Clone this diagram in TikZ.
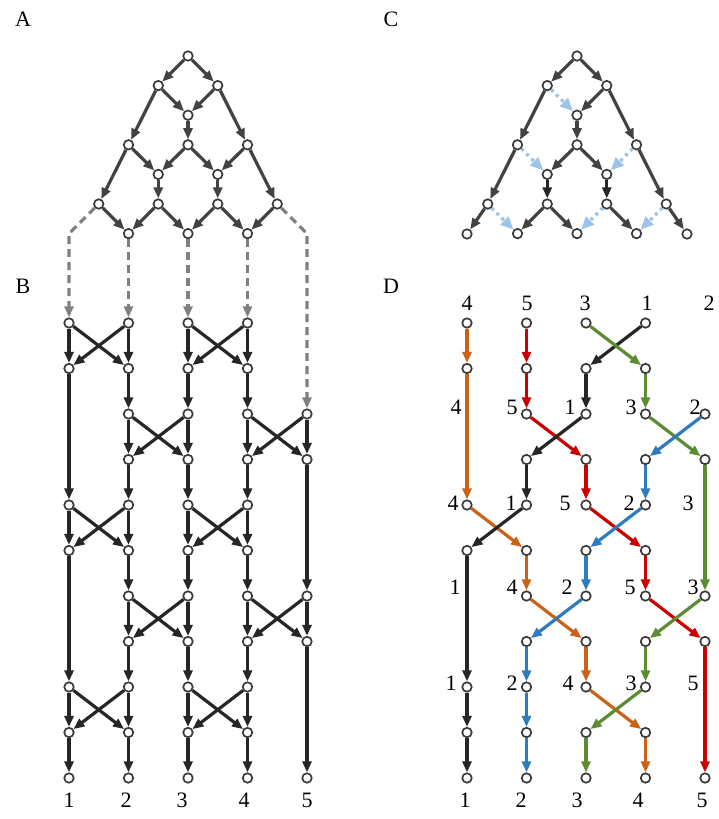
\documentclass[tikz,border=0pt]{standalone}
\usepackage{fontspec}
\setmainfont{Liberation Serif}
\usetikzlibrary{arrows.meta}
\definecolor{edgeA}{HTML}{424242}
\definecolor{edgeB}{HTML}{262626}
\definecolor{nodeborder}{HTML}{3A3A3A}
\definecolor{grayd}{HTML}{808080}
\definecolor{lblue}{HTML}{9DC3E6}
\definecolor{orangeD}{HTML}{CC6218}
\definecolor{redD}{HTML}{CC0000}
\definecolor{greenD}{HTML}{5B8C32}
\definecolor{blueD}{HTML}{2E7BBF}
\definecolor{blackD}{HTML}{262626}
\tikzset{
  vtx/.style={circle, draw=nodeborder, fill=white, line width=1.7pt, minimum size=9.5pt, inner sep=0pt},
  arr/.style={line width=3.2pt, -{Triangle[length=11pt,width=9pt]}},
  ea/.style={arr, color=edgeA},
  eb/.style={arr, color=edgeB},
  gd/.style={line width=3.2pt, color=grayd, dash pattern=on 8pt off 5pt, -{Triangle[length=11pt,width=9pt]}},
  bd/.style={line width=3.4pt, color=lblue, dash pattern=on 3pt off 4pt, -{Triangle[length=13pt,width=11pt]}},
  lbl/.style={font=\fontsize{22}{26}\selectfont, inner sep=0pt},
}
\begin{document}
\begin{tikzpicture}[x=1pt,y=-1pt]
\useasboundingbox (0,0) rectangle (719,819);
% panel letters
\node[lbl] (LA) at (23,19) {A};
\node[lbl] (LB) at (23,286) {B};
\node[lbl] (LC) at (391,19) {C};
\node[lbl] (LD) at (391,286) {D};
% ---------- panel A and C nodes
\foreach \r/\kl in {0/{3},1/{2,4},2/{3},3/{1,3,5},4/{2,4},5/{0,2,4,6},6/{1,3,5}}
  \foreach \k in \kl {
    \node[vtx] (a\r\k) at ({98.75+29.75*\k},{56+29.6*\r}) {};
    \node[vtx] (c\r\k) at ({487.75+29.75*\k},{56+29.6*\r}) {};
  }
\node[vtx] (c6a) at (467,234) {};
\node[vtx] (c6z) at (687,234) {};
% ---------- panel B and D nodes
\foreach \r/\cl in {0/{1,2,3,4},1/{1,2,3,4},2/{2,3,4,5},3/{2,3,4,5},4/{1,2,3,4},5/{1,2,3,4},6/{2,3,4,5},7/{2,3,4,5},8/{1,2,3,4},9/{1,2,3,4},10/{1,2,3,4,5}}
  \foreach \c in \cl {
    \node[vtx] (b\r-\c) at ({69+59.5*(\c-1)},{323+45.5*\r}) {};
    \node[vtx] (d\r-\c) at ({467+59.5*(\c-1)},{323+45.5*\r}) {};
  }
% ---------- panel A edges
\foreach \p/\q in {03/12,03/14,12/23,12/31,14/23,14/35,23/33,31/42,31/50,33/42,33/44,35/44,35/56,42/52,44/54,50/61,52/61,52/63,54/63,54/65,56/65}
  \draw[ea] (a\p) -- (a\q);
% ---------- panel C edges
\foreach \p/\q in {03/12,03/14,12/31,14/23,14/35,23/33,31/50,33/42,33/44,35/56,52/61,52/63,54/65}
  \draw[ea] (c\p) -- (c\q);
\draw[eb] (c42) -- (c52);
\draw[eb] (c44) -- (c54);
\draw[ea] (c50) -- (c6a);
\draw[ea] (c56) -- (c6z);
\foreach \p/\q in {12/23,31/42,35/44,50/61,54/63,56/65}
  \draw[bd] (c\p) -- (c\q);
% ---------- dashed connections A -> B
\coordinate (bendL) at (69,233.6);
\coordinate (bendR) at (307,233.6);
\draw[gd] (a50) -- (bendL) -- (b0-1);
\draw[gd] (a61) -- (b0-2);
\draw[gd] (a63) -- (b0-3);
\draw[gd] (a65) -- (b0-4);
\draw[gd] (a56) -- (bendR) -- (b2-5);
% ---------- panel B edges
\foreach \r/\an in {0/1,0/3,2/2,2/4,4/1,4/3,6/2,6/4,8/1,8/3} {
  \pgfmathtruncatemacro\rn{\r+1}
  \pgfmathtruncatemacro\bn{\an+1}
  \draw[eb] (b\r-\an) -- (b\rn-\an);
  \draw[eb] (b\r-\an) -- (b\rn-\bn);
  \draw[eb] (b\r-\bn) -- (b\rn-\bn);
  \draw[eb] (b\r-\bn) -- (b\rn-\an);
}
\foreach \r/\s/\c in {1/2/2,1/2/3,1/2/4,1/4/1,3/4/2,3/4/3,3/4/4,3/6/5,5/6/2,5/6/3,5/6/4,5/8/1,7/8/2,7/8/3,7/8/4,7/10/5,9/10/1,9/10/2,9/10/3,9/10/4}
  \draw[eb] (b\r-\c) -- (b\s-\c);
% ---------- panel D edges
\foreach \p/\q in {0-1/1-1,1-1/4-1,4-1/5-2,5-2/6-2,6-2/7-3,7-3/8-3,8-3/9-4,9-4/10-4}
  \draw[arr, color=orangeD] (d\p) -- (d\q);
\foreach \p/\q in {0-2/1-2,1-2/2-2,2-2/3-3,3-3/4-3,4-3/5-4,5-4/6-4,6-4/7-5,7-5/10-5}
  \draw[arr, color=redD] (d\p) -- (d\q);
\foreach \p/\q in {0-4/1-3,1-3/2-3,2-3/3-2,3-2/4-2,4-2/5-1,5-1/8-1,8-1/9-1,9-1/10-1}
  \draw[arr, color=blackD] (d\p) -- (d\q);
\foreach \p/\q in {0-3/1-4,1-4/2-4,2-4/3-5,3-5/6-5,6-5/7-4,7-4/8-4,8-4/9-3,9-3/10-3}
  \draw[arr, color=greenD] (d\p) -- (d\q);
\foreach \p/\q in {2-5/3-4,3-4/4-4,4-4/5-3,5-3/6-3,6-3/7-2,7-2/8-2,8-2/9-2,9-2/10-2}
  \draw[arr, color=blueD] (d\p) -- (d\q);
% ---------- labels B bottom
\foreach \t/\x in {1/69,2/126,3/182,4/244,5/307}
  \node[lbl] (bl\t) at (\x,800) {\t};
% ---------- labels D
\foreach \t/\x in {1/465,2/521,3/577,4/638,5/702}
  \node[lbl] (dlb\t) at (\x,800) {\t};
\foreach \i/\t/\x in {1/4/467,2/5/527,3/3/585,4/1/647,5/2/709}
  \node[lbl] (dlt\i) at (\x,303) {\t};
\foreach \i/\t/\x in {1/4/456,2/5/512,3/1/570,4/3/631,5/2/695}
  \node[lbl] (dla\i) at (\x,407) {\t};
\foreach \i/\t/\x in {1/4/453,2/1/511,3/5/565,4/2/629,5/3/688}
  \node[lbl] (dlc\i) at (\x,503) {\t};
\foreach \i/\t/\x in {1/1/455,2/4/512,3/2/567,4/5/630,5/3/693}
  \node[lbl] (dle\i) at (\x,587) {\t};
\foreach \i/\t/\x in {1/1/451,2/2/512,3/4/568,4/3/631,5/5/693}
  \node[lbl] (dlg\i) at (\x,683) {\t};
\end{tikzpicture}
\end{document}
